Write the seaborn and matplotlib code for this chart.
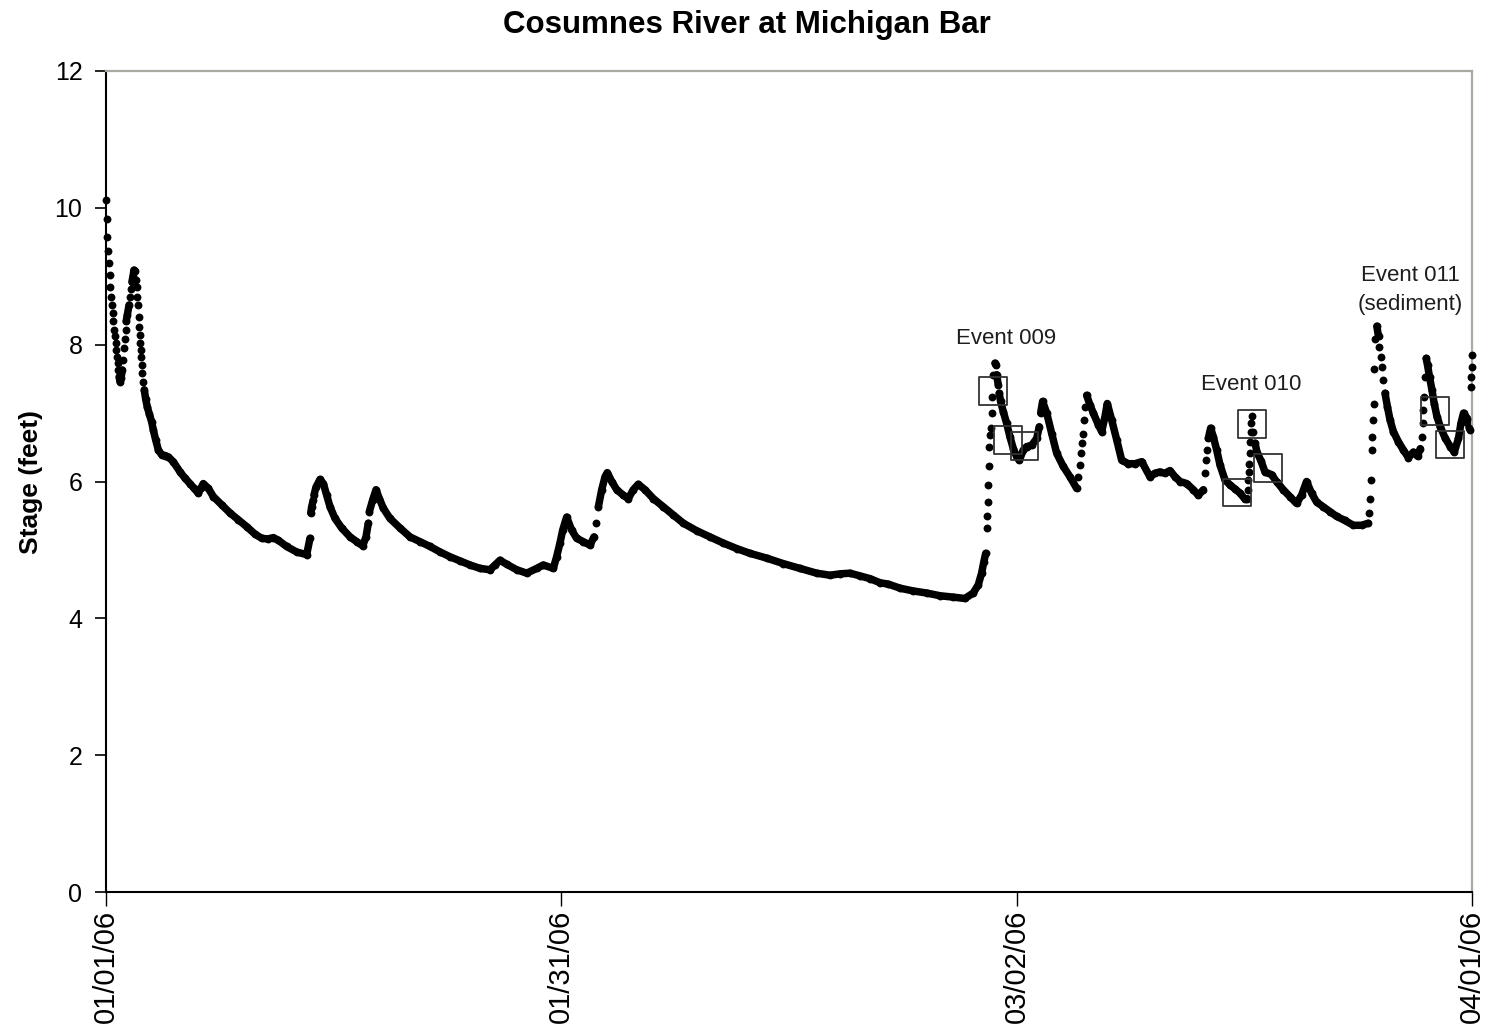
import numpy as np
import pandas as pd
import matplotlib
matplotlib.use("Agg")
import matplotlib.pyplot as plt
import matplotlib.dates as mdates
import seaborn as sns

# Stage record, Cosumnes River at Michigan Bar, 01/01/06 - 04/01/06
start = pd.Timestamp("2006-01-01")

day = [
    0.00, 0.05, 0.09, 0.14, 0.19, 0.24, 0.29, 0.34, 0.39, 0.44, 0.48, 0.53,
    0.58, 0.63, 0.68, 0.73, 0.78, 0.82, 0.87, 0.92,
    0.99, 1.07, 1.14, 1.21, 1.25, 1.29, 1.33, 1.40, 1.52, 1.58, 1.65, 1.71,
    1.78, 1.84,
    1.91, 1.98, 2.02, 2.06, 2.11, 2.15, 2.19, 2.22, 2.26, 2.29, 2.32, 2.35,
    2.39, 2.46, 2.52, 2.61, 2.72, 2.85, 3.01, 3.12, 3.27, 3.45, 3.67, 3.90,
    4.11, 4.43, 4.88, 5.20, 5.53, 5.80, 6.08, 6.25, 6.41, 6.74, 7.07, 7.62,
    8.17, 8.72, 9.27, 9.82, 10.26, 10.65, 11.03, 11.36, 11.90, 12.56, 13.22,
    13.44, 13.49, 13.55, 13.66, 13.70, 13.84, 14.10,
    14.32, 14.54, 14.76, 15.09, 15.53, 16.08, 16.52, 16.91,
    17.13, 17.28, 17.35, 17.57, 17.79,
    18.01, 18.27, 18.71, 19.37, 20.03, 20.69, 21.35, 22.01, 22.66, 23.32,
    23.98, 24.64, 25.30, 25.63, 25.96, 26.40, 27.06, 27.72, 28.38, 28.81,
    29.47, 29.69, 29.91, 30.09, 30.35, 30.68, 31.01, 31.45, 31.89,
    32.15, 32.28, 32.44, 32.66, 32.88, 33.03, 33.32, 33.65, 34.08, 34.41,
    34.74, 35.07, 35.51, 36.06, 36.72, 37.38, 38.04, 38.92, 39.79, 40.67,
    41.55, 42.43, 43.53, 44.62, 45.72, 46.82, 47.70, 48.36, 49.02, 49.68,
    50.34, 51.00, 51.54, 52.33, 53.19, 54.07, 54.95, 55.82, 56.59, 57.14,
    57.47, 57.69, 57.84, 57.96,
    58.02, 58.06, 58.09, 58.13, 58.17, 58.21, 58.24, 58.28, 58.35, 58.39,
    58.46, 58.57,
    58.64, 58.68, 58.79, 58.85, 58.94, 59.12, 59.34, 59.56, 59.78, 60.00,
    60.17, 60.44, 60.66, 60.99, 61.32, 61.49, 61.58, 61.71, 61.98, 62.31,
    62.64, 63.07, 63.51, 63.95,
    64.06, 64.17, 64.22, 64.28, 64.35, 64.44, 64.52, 64.61,
    64.83, 65.05, 65.38, 65.60, 65.82, 65.97, 66.26, 66.59, 66.92, 67.36,
    67.80, 68.24, 68.78, 69.11, 69.44, 69.77, 70.10, 70.43, 70.76, 71.20,
    71.64, 71.97, 72.30,
    72.41, 72.46, 72.52, 72.63, 72.78,
    72.96, 73.18, 73.40, 73.73, 74.06, 74.39, 74.72, 75.05, 75.20,
    75.24, 75.27, 75.30, 75.33, 75.36, 75.39, 75.42, 75.46, 75.52,
    75.59, 75.70, 75.85, 76.10, 76.36, 76.79, 77.12, 77.56, 78.00, 78.44,
    78.77, 79.10, 79.43, 79.76, 80.20, 80.64, 81.08, 81.63, 82.18, 82.73,
    83.16,
    83.23, 83.27, 83.32, 83.38, 83.42, 83.47, 83.52, 83.56, 83.62, 83.73,
    83.84, 83.90, 83.99, 84.06, 84.16, 84.27, 84.43, 84.60, 84.82, 85.15,
    85.48, 85.81, 86.14, 86.41,
    86.59, 86.70, 86.76, 86.80, 86.87, 86.92, 86.98,
    87.07, 87.20, 87.36, 87.51, 87.69, 87.91, 88.24, 88.57, 88.83,
    89.11, 89.27, 89.44, 89.70, 89.83, 89.90,
    89.94, 89.96, 89.98, 90.00,
]

stage = [
    10.12, 9.83, 9.58, 9.37, 9.19, 9.02, 8.84, 8.70, 8.58, 8.46, 8.34, 8.21,
    8.12, 8.02, 7.92, 7.82, 7.73, 7.63, 7.53, 7.46,
    7.51, 7.63, 7.78, 7.95, 8.09, 8.21, 8.34, 8.43, 8.58, 8.70, 8.82, 8.92,
    9.00, 9.09,
    9.07, 8.94, 8.85, 8.70, 8.58, 8.41, 8.26, 8.14, 8.02, 7.92, 7.82, 7.70,
    7.58, 7.46, 7.34, 7.21, 7.09, 6.99, 6.87, 6.75, 6.61, 6.46, 6.39, 6.38,
    6.36, 6.29, 6.14, 6.05, 5.97, 5.90, 5.83, 5.90, 5.97, 5.90, 5.78, 5.66,
    5.54, 5.44, 5.34, 5.23, 5.17, 5.16, 5.18, 5.14, 5.05, 4.97, 4.93,
    5.17, 5.54, 5.63, 5.73, 5.80, 5.92, 6.03,
    5.97, 5.80, 5.63, 5.46, 5.32, 5.19, 5.12, 5.06,
    5.19, 5.39, 5.56, 5.73, 5.88,
    5.75, 5.61, 5.46, 5.32, 5.19, 5.12, 5.05, 4.97, 4.90, 4.84,
    4.78, 4.73, 4.71, 4.78, 4.85, 4.79, 4.71, 4.66, 4.73, 4.78,
    4.73, 4.90, 5.10, 5.29, 5.48, 5.29, 5.17, 5.12, 5.07,
    5.19, 5.39, 5.63, 5.88, 6.07, 6.13, 6.00, 5.88, 5.80, 5.75,
    5.88, 5.96, 5.88, 5.75, 5.63, 5.51, 5.39, 5.28, 5.19, 5.10,
    5.02, 4.95, 4.88, 4.80, 4.73, 4.66, 4.63, 4.65, 4.66, 4.62,
    4.58, 4.52, 4.50, 4.44, 4.40, 4.37, 4.33, 4.31, 4.29, 4.37,
    4.49, 4.66, 4.83, 4.95,
    5.32, 5.49, 5.70, 5.95, 6.22, 6.51, 6.68, 6.78, 7.00, 7.24,
    7.56, 7.73,
    7.70, 7.56, 7.41, 7.29, 7.17, 7.02, 6.85, 6.65, 6.48, 6.36,
    6.31, 6.46, 6.51, 6.53, 6.63, 6.80, 7.00, 7.17, 7.00, 6.70,
    6.41, 6.22, 6.07, 5.90,
    6.07, 6.24, 6.41, 6.56, 6.70, 6.90, 7.09, 7.26,
    7.12, 7.00, 6.83, 6.73, 6.95, 7.14, 6.90, 6.61, 6.31, 6.26,
    6.26, 6.29, 6.07, 6.12, 6.14, 6.12, 6.16, 6.07, 6.00, 5.97,
    5.88, 5.80, 5.88,
    6.12, 6.31, 6.46, 6.63, 6.78,
    6.65, 6.46, 6.24, 6.02, 5.95, 5.89, 5.83, 5.74, 5.75,
    5.88, 6.02, 6.14, 6.26, 6.42, 6.58, 6.73, 6.85, 6.96,
    6.73, 6.56, 6.42, 6.30, 6.14, 6.10, 6.00, 5.88, 5.78, 5.68,
    5.80, 6.00, 5.83, 5.70, 5.63, 5.56, 5.49, 5.43, 5.36, 5.36,
    5.39,
    5.54, 5.75, 6.02, 6.46, 6.65, 6.90, 7.14, 7.65, 8.09, 8.27,
    8.12, 7.97, 7.82, 7.68, 7.48, 7.29, 7.09, 6.90, 6.73, 6.58,
    6.46, 6.35, 6.43, 6.37,
    6.48, 6.65, 6.85, 7.04, 7.24, 7.53, 7.80,
    7.70, 7.53, 7.34, 7.14, 6.95, 6.80, 6.63, 6.51, 6.43,
    6.63, 6.85, 7.00, 6.92, 6.78, 6.76,
    7.38, 7.53, 7.68, 7.85,
]

# Sampling points marked with open squares
sample_day = [58.43, 59.45, 60.52, 74.50, 75.48, 76.57, 87.54, 88.53]
sample_stage = [7.32, 6.61, 6.52, 5.84, 6.84, 6.20, 7.03, 6.54]

# Event annotations
event_text = ["Event 009", "Event 010", "Event 011", "(sediment)"]
event_day = [59.33, 75.48, 85.96, 85.96]
event_stage = [8.01, 7.34, 8.93, 8.51]

tick_day = [0, 30, 60, 90]
y_ticks = [0, 2, 4, 6, 8, 10, 12]

sns.set_theme(style="ticks")
plt.rcParams["font.family"] = ["Liberation Sans", "DejaVu Sans"]
plt.rcParams["text.color"] = "black"
plt.rcParams["axes.labelcolor"] = "black"

day_arr = np.asarray(day)
stage_arr = np.asarray(stage)
df = pd.DataFrame({
    "time": start + pd.to_timedelta(day_arr, unit="D"),
    "stage": stage_arr,
})
# Consecutive readings merge into a solid trace; fast rises stay as single dots
rate = np.abs(np.diff(stage_arr)) / np.diff(day_arr)
df["run"] = np.concatenate([[0], np.cumsum(rate > 1.5)])

samples = pd.DataFrame({
    "time": start + pd.to_timedelta(np.asarray(sample_day), unit="D"),
    "stage": sample_stage,
})

W, H = 1493, 1026
fig = plt.figure(figsize=(W / 100, H / 100), dpi=100)
ax = fig.add_axes([106 / W, 1 - 892 / H, 1366 / W, 821 / H])

sns.lineplot(data=df, x="time", y="stage", units="run", estimator=None,
             sort=False, color="black", linewidth=5.4,
             solid_capstyle="round", ax=ax, legend=False)
sns.scatterplot(data=df, x="time", y="stage", color="black", s=32,
                linewidth=0, ax=ax, legend=False, clip_on=False, zorder=3)
sns.scatterplot(data=samples, x="time", y="stage", marker="s", s=400,
                color="#333333", facecolor="none", edgecolor="#333333",
                linewidth=1.3, ax=ax, legend=False, zorder=4)

for txt, d, v in zip(event_text, event_day, event_stage):
    ax.text(start + pd.Timedelta(days=d), v, txt, ha="center", va="baseline",
            fontsize=16, color="#1e1e1e")

ax.set_xlim(start, start + pd.Timedelta(days=90))
ax.set_ylim(0, 12)
ax.set_yticks(y_ticks)
ax.set_xticks([start + pd.Timedelta(days=d) for d in tick_day])
ax.xaxis.set_major_formatter(mdates.DateFormatter("%m/%d/%y"))

ax.tick_params(axis="y", direction="out", length=8, width=1.2, pad=9,
               labelsize=18, colors="black")
ax.tick_params(axis="x", direction="out", length=10, width=1.0, pad=3,
               labelsize=21, labelrotation=90, colors="black")
for lbl in ax.get_xticklabels():
    lbl.set_va("top")

for side in ("left", "bottom"):
    ax.spines[side].set_color("black")
    ax.spines[side].set_linewidth(1.5)
for side in ("top", "right"):
    ax.spines[side].set_visible(True)
    ax.spines[side].set_color("#a9a9a2")
    ax.spines[side].set_linewidth(1.6)

ax.set_xlabel("")
ax.set_ylabel("Stage (feet)", fontsize=19, fontweight="bold", color="black")
ax.yaxis.set_label_coords(-0.046, 0.5)

fig.text(0.5, 1 - 33 / H, "Cosumnes River at Michigan Bar", ha="center",
         va="baseline", fontsize=22.5, fontweight="bold", color="black")

fig.savefig("out.png", dpi=100, facecolor="white")
